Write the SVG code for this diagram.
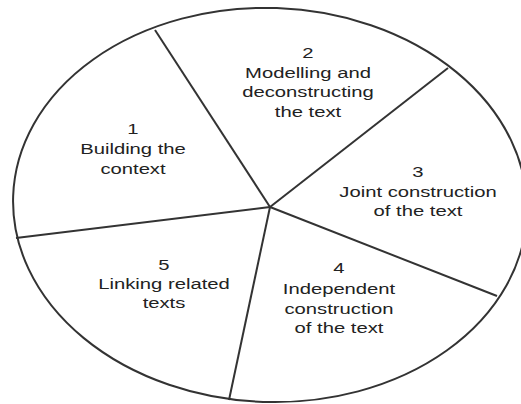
<svg xmlns="http://www.w3.org/2000/svg" width="521" height="404" viewBox="0 0 521 404">
<style>
.outline{fill:none;stroke:#333;stroke-width:2}
.conn line{stroke:#333;stroke-width:2}
.lbl{font-family:"Liberation Sans",Arial,sans-serif;font-size:15px;fill:#222;text-anchor:middle}
</style>
<rect width="521" height="404" fill="#fff"/>
<ellipse class="outline" cx="270" cy="205" rx="257" ry="197" transform="rotate(2 270 205)"/>
<g id="connectors" class="conn">
<line x1="270" y1="207" x2="155" y2="30"/>
<line x1="270" y1="207" x2="448" y2="68"/>
<line x1="270" y1="207" x2="497" y2="296"/>
<line x1="270" y1="207" x2="229" y2="400"/>
<line x1="270" y1="207" x2="16" y2="238"/>
</g>
<g id="node1">
<text class="lbl" transform="translate(133 0) scale(1.35 1)"><tspan x="0" y="134">1</tspan><tspan x="0" y="154">Building the</tspan><tspan x="0" y="174">context</tspan></text>
</g>
<g id="node2">
<text class="lbl" transform="translate(308 0) scale(1.35 1)"><tspan x="0" y="58">2</tspan><tspan x="0" y="78">Modelling and</tspan><tspan x="0" y="97">deconstructing</tspan><tspan x="0" y="117">the text</tspan></text>
</g>
<g id="node3">
<text class="lbl" transform="translate(418 0) scale(1.35 1)"><tspan x="0" y="177">3</tspan><tspan x="0" y="197">Joint construction</tspan><tspan x="0" y="216">of the text</tspan></text>
</g>
<g id="node4">
<text class="lbl" transform="translate(339 0) scale(1.35 1)"><tspan x="0" y="273">4</tspan><tspan x="0" y="294">Independent</tspan><tspan x="0" y="314">construction</tspan><tspan x="0" y="333">of the text</tspan></text>
</g>
<g id="node5">
<text class="lbl" transform="translate(164 0) scale(1.35 1)"><tspan x="0" y="270">5</tspan><tspan x="0" y="289">Linking related</tspan><tspan x="0" y="308">texts</tspan></text>
</g>
</svg>
